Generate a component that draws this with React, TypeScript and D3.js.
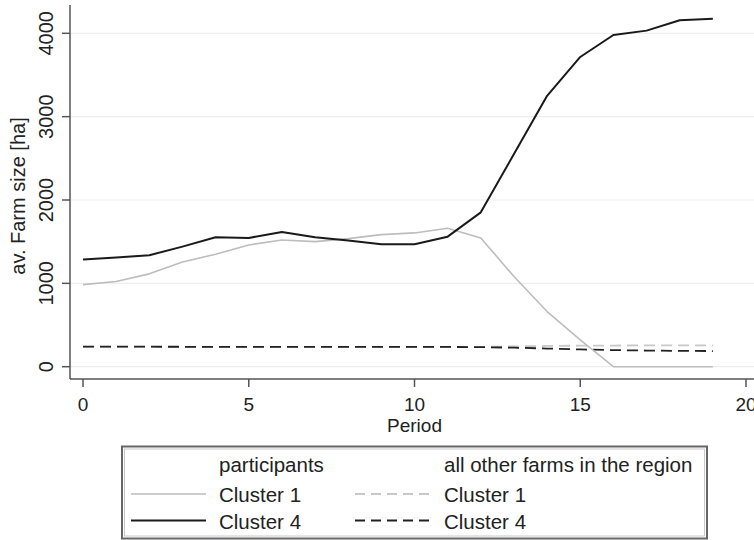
import * as d3 from 'd3';

const periods = [0, 1, 2, 3, 4, 5, 6, 7, 8, 9, 10, 11, 12, 13, 14, 15, 16, 17, 18, 19];

// participants
const partCluster1 = [985, 1022, 1114, 1257, 1350, 1461, 1521, 1501, 1537, 1585, 1605, 1661, 1545, 1082, 662, 323, 0, 0, 0, 0];
const partCluster4 = [1285, 1309, 1337, 1441, 1553, 1545, 1617, 1553, 1513, 1469, 1469, 1560, 1852, 2551, 3250, 3716, 3980, 4032, 4156, 4176];

// all other farms in the region
const otherCluster1 = [239, 239, 238, 238, 238, 238, 237, 237, 237, 237, 236, 236, 238, 244, 249, 252, 254, 255, 256, 256];
const otherCluster4 = [241, 240, 240, 239, 239, 239, 238, 238, 238, 238, 237, 237, 235, 228, 218, 207, 199, 194, 190, 188];

const xTicks = [0, 5, 10, 15, 20];
const yTicks = [0, 1000, 2000, 3000, 4000];

const W = 754;
const H = 540;
const FONT = 'Liberation Sans, Arial, sans-serif';
const TEXT = '#222';
const AXIS = '#555';

const x = d3.scaleLinear().domain([0, 20]).range([83, 746]);
const y = d3.scaleLinear().domain([0, 4000]).range([366.7, 33.3]);

const line = d3
  .line<number>()
  .x((_, i) => x(periods[i]))
  .y((d) => y(d));

const series = [
  { values: otherCluster1, color: '#c8c8c8', width: 1.8, dash: '11 6' },
  { values: otherCluster4, color: '#222', width: 1.8, dash: '11 6' },
  { values: partCluster1, color: '#bdbdbd', width: 1.6, dash: undefined },
  { values: partCluster4, color: '#1a1a1a', width: 2, dash: undefined },
];

const legendRows = [
  { label: 'Cluster 1', left: { color: '#bdbdbd', width: 1.6, dash: undefined }, right: { color: '#c8c8c8', width: 1.8, dash: '10 6' } },
  { label: 'Cluster 4', left: { color: '#1a1a1a', width: 2, dash: undefined }, right: { color: '#222', width: 1.8, dash: '10 6' } },
];

export default function App() {
  const axisY = 379;
  const axisX = 70;
  return (
    <svg
      width={W}
      height={H}
      style={{ position: 'absolute', left: 0, top: 0, background: '#fff' }}
      fontFamily={FONT}
    >
      <rect width={W} height={H} fill="#fff" />
      {/* gridlines */}
      {yTicks.map((t) => (
        <line key={'g' + t} x1={axisX} x2={W} y1={y(t)} y2={y(t)} stroke="#ebebeb" strokeWidth={1} />
      ))}
      {/* y axis */}
      <line x1={axisX} x2={axisX} y1={5} y2={axisY} stroke={AXIS} strokeWidth={1.5} />
      {yTicks.map((t) => (
        <g key={'y' + t}>
          <line x1={62} x2={axisX} y1={y(t)} y2={y(t)} stroke={AXIS} strokeWidth={1.5} />
          <text
            transform={`translate(53,${y(t)}) rotate(-90)`}
            textAnchor="middle"
            fontSize={20}
            fill={TEXT}
          >
            {t}
          </text>
        </g>
      ))}
      <text transform="translate(25,196) rotate(-90)" textAnchor="middle" fontSize={20} fill={TEXT}>
        av. Farm size [ha]
      </text>
      {/* x axis */}
      <line x1={axisX} x2={W} y1={axisY} y2={axisY} stroke={AXIS} strokeWidth={1.5} />
      {xTicks.map((t) => (
        <g key={'x' + t}>
          <line x1={x(t)} x2={x(t)} y1={axisY} y2={387} stroke={AXIS} strokeWidth={1.5} />
          <text x={x(t)} y={411} textAnchor="middle" fontSize={19} fill={TEXT}>
            {t}
          </text>
        </g>
      ))}
      <text x={x(10)} y={432} textAnchor="middle" fontSize={19} fill={TEXT}>
        Period
      </text>
      {/* series */}
      {series.map((s, i) => (
        <path
          key={'s' + i}
          d={line(s.values) || ''}
          fill="none"
          stroke={s.color}
          strokeWidth={s.width}
          strokeDasharray={s.dash}
          strokeLinejoin="round"
        />
      ))}
      {/* legend */}
      <rect x={122} y={446.5} width={585} height={92} fill="#fff" stroke="#666" strokeWidth={2} />
      <rect x={124.5} y={449} width={580} height={87} fill="none" stroke="#bbb" strokeWidth={0.8} />
      <text x={219} y={472} fontSize={20.5} fill={TEXT}>participants</text>
      <text x={444} y={472} fontSize={20.5} fill={TEXT}>all other farms in the region</text>
      {legendRows.map((r, i) => {
        const ly = 494 + i * 26.5;
        return (
          <g key={'l' + i}>
            <line x1={131} x2={206} y1={ly} y2={ly} stroke={r.left.color} strokeWidth={r.left.width} />
            <text x={219} y={ly + 8} fontSize={20.5} fill={TEXT}>{r.label}</text>
            <line
              x1={355}
              x2={432}
              y1={ly}
              y2={ly}
              stroke={r.right.color}
              strokeWidth={r.right.width}
              strokeDasharray={r.right.dash}
            />
            <text x={444} y={ly + 8} fontSize={20.5} fill={TEXT}>{r.label}</text>
          </g>
        );
      })}
    </svg>
  );
}
